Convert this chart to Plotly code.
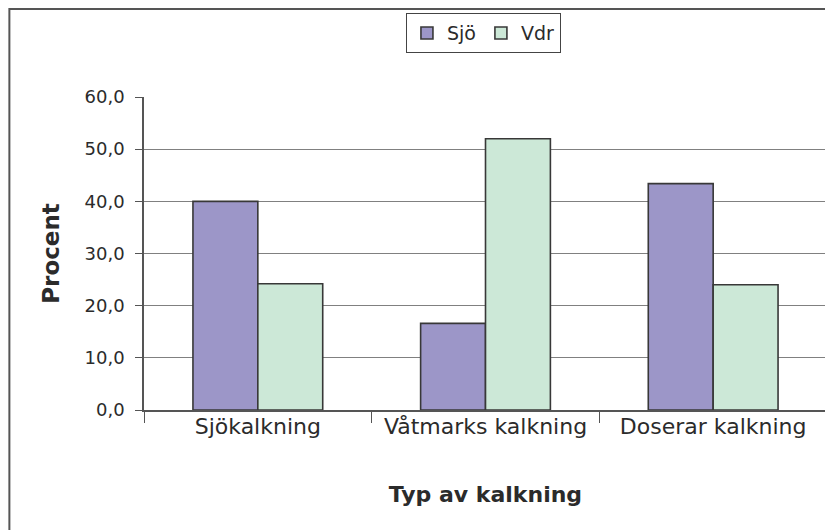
import plotly.graph_objects as go

# data
kategorier = ["Sjökalkning", "Våtmarks kalkning", "Doserar kalkning"]
sjo = [40.0, 16.6, 43.4]
vdr = [24.2, 52.0, 24.0]
y_ticks = [0, 10, 20, 30, 40, 50, 60]

fig = go.Figure()
fig.add_trace(go.Bar(x=kategorier, y=sjo, name="Sjö",
                     marker_color="#9C96C8", marker_line_color="#383838", marker_line_width=1.6))
fig.add_trace(go.Bar(x=kategorier, y=vdr, name="Vdr",
                     marker_color="#CCE8D7", marker_line_color="#383838", marker_line_width=1.6))

# page has an 8px body margin, so the figure is 825x522 and offsets are shifted by 8
fig.update_layout(
    width=825, height=522, autosize=False,
    margin=dict(l=136, r=4, t=89, b=120),
    paper_bgcolor="white", plot_bgcolor="white",
    font=dict(family="DejaVu Sans", size=18, color="#2b2b2b"),
    barmode="group", bargap=0.43, bargroupgap=0,
    separators=", ",
    legend=dict(orientation="h", x=0.497, xanchor="center", y=1.268, yanchor="top",
                bordercolor="#444", borderwidth=1, font=dict(size=19),
                itemwidth=30, tracegroupgap=0),
    showlegend=True,
)
fig.update_yaxes(
    range=[0, 60], tickvals=y_ticks, tickformat=".1f",
    title=dict(text="<b>Procent</b>", font=dict(size=23), standoff=19),
    showgrid=True, gridcolor="#808080", gridwidth=1,
    showline=True, linecolor="#555", linewidth=1.5, mirror=True,
    ticks="outside", ticklen=7, tickcolor="#555", tickfont=dict(size=18),
    ticklabelstandoff=7,
    zeroline=False,
)
fig.update_xaxes(
    title=dict(text="<b>Typ av kalkning</b>", font=dict(size=22), standoff=48),
    showline=True, linecolor="#555", linewidth=1.5,
    ticks="outside", tickson="boundaries", ticklen=11, tickcolor="#555",
    tickfont=dict(size=22), ticklabelstandoff=-4,
)

# outer chart border (cut off at right and bottom as in the reference)
fig.add_shape(type="rect", xref="paper", yref="paper",
              x0=-0.1971, y0=-0.6, x1=1.05, y1=1.2812,
              line=dict(color="#555", width=2), layer="below")

fig.write_html("out.html")
